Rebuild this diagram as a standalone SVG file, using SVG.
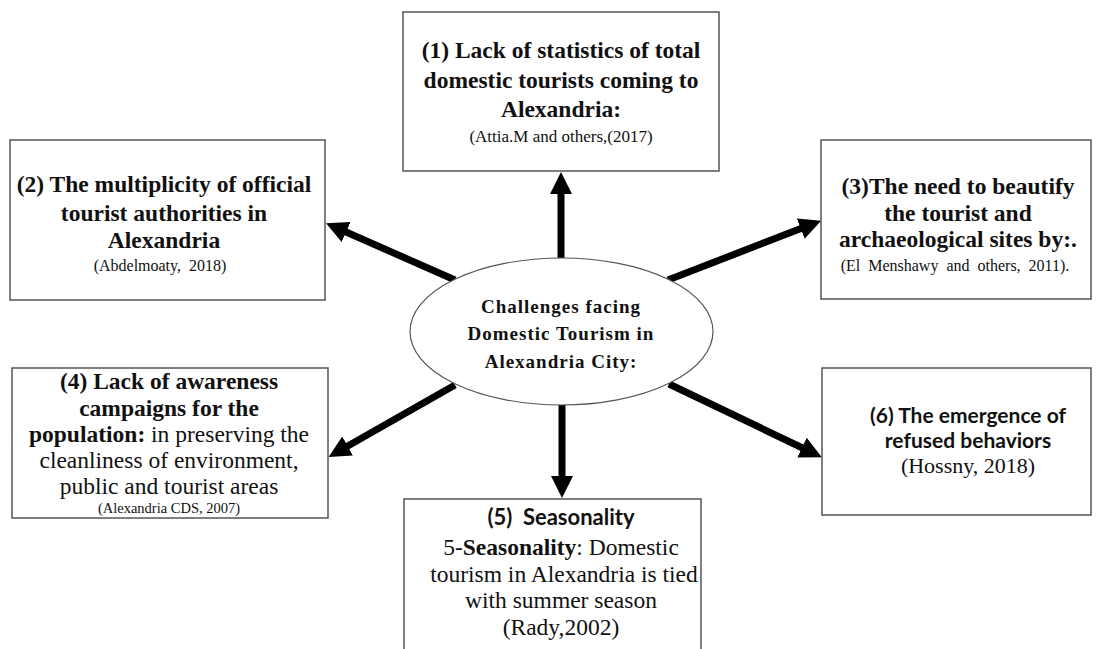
<svg xmlns="http://www.w3.org/2000/svg" width="1101" height="649" viewBox="0 0 1101 649">
<style>
.box{fill:#fff;stroke:#555;stroke-width:1.5}
.ell{fill:#fff;stroke:#555;stroke-width:1.2}
.h{font-family:"Liberation Serif","Times New Roman",serif;font-weight:bold;font-size:23.5px;fill:#111;text-anchor:middle}
.r{font-family:"Liberation Serif","Times New Roman",serif;font-size:23.5px;fill:#111;text-anchor:middle}
.c{font-family:"Liberation Serif","Times New Roman",serif;font-size:16px;fill:#111;text-anchor:middle}
.s{font-family:Lato,"Open Sans",sans-serif;font-weight:bold;font-size:22px;fill:#111;text-anchor:middle}
.e{font-family:"Liberation Serif","Times New Roman",serif;font-weight:bold;font-size:19px;letter-spacing:1px;fill:#111;text-anchor:middle}
.b{font-weight:bold}
.a{stroke:#000;stroke-width:7;fill:none}
</style>
<defs>
<marker id="ah" markerUnits="userSpaceOnUse" markerWidth="24" markerHeight="22" refX="10" refY="11" orient="auto" viewBox="0 0 24 22">
<path d="M0,0 L22,11 L0,22 z" fill="#000"/>
</marker>
</defs>
<rect width="1101" height="649" fill="#fff"/>
<g id="connectors">
<line class="a" x1="561" y1="262" x2="561" y2="184" marker-end="url(#ah)"/>
<line class="a" x1="455" y1="280" x2="337" y2="228" marker-end="url(#ah)"/>
<line class="a" x1="668" y1="280" x2="810" y2="225" marker-end="url(#ah)"/>
<line class="a" x1="455" y1="385" x2="339" y2="451" marker-end="url(#ah)"/>
<line class="a" x1="669" y1="384" x2="811" y2="452" marker-end="url(#ah)"/>
<line class="a" x1="562" y1="400" x2="562" y2="486" marker-end="url(#ah)"/>
</g>
<g id="center">
<ellipse class="ell" cx="561.5" cy="331.5" rx="151.5" ry="73.5"/>
<text class="e" x="561" y="313">Challenges facing</text>
<text class="e" x="561" y="340">Domestic Tourism in</text>
<text class="e" x="561" y="368">Alexandria  City:</text>
</g>
<g id="node1">
<rect class="box" x="403" y="12" width="316" height="159"/>
<text class="h" x="561" y="58">(1) Lack of statistics of total</text>
<text class="h" x="561" y="88">domestic tourists coming to</text>
<text class="h" x="561" y="117">Alexandria:</text>
<text class="c" x="561" y="142" style="font-size:17px">(Attia.M and others,(2017)</text>
</g>
<g id="node2">
<rect class="box" x="10" y="140" width="315" height="160"/>
<text class="h" x="164" y="192">(2) The multiplicity of official</text>
<text class="h" x="164" y="221">tourist authorities in</text>
<text class="h" x="164" y="248">Alexandria</text>
<text class="c" x="160" y="271" xml:space="preserve">(Abdelmoaty,  2018)</text>
</g>
<g id="node3">
<rect class="box" x="821" y="140" width="270" height="159"/>
<text class="h" x="958" y="194">(3)The need to beautify</text>
<text class="h" x="958" y="221">the tourist and</text>
<text class="h" x="958" y="247">archaeological sites by:.</text>
<text class="c" x="955" y="271" style="word-spacing:4px">(El Menshawy and others, 2011).</text>
</g>
<g id="node4">
<rect class="box" x="12" y="368" width="316" height="150"/>
<text class="h" x="169" y="389">(4) Lack of awareness</text>
<text class="h" x="169" y="416">campaigns for the</text>
<text class="r" x="169" y="442"><tspan class="b">population:</tspan> in preserving the</text>
<text class="r" x="169" y="468">cleanliness of environment,</text>
<text class="r" x="169" y="494">public and tourist areas</text>
<text class="c" x="169" y="513" style="font-size:14.5px">(Alexandria CDS, 2007)</text>
</g>
<g id="node5">
<rect class="box" x="404" y="499" width="297" height="160"/>
<text class="s" x="561" y="525" xml:space="preserve">(5)  Seasonality</text>
<text class="r" x="561" y="555">5-<tspan class="b">Seasonality</tspan>: Domestic</text>
<text class="r" x="564" y="582">tourism in Alexandria is tied</text>
<text class="r" x="561" y="608">with summer season</text>
<text class="r" x="561" y="635">(Rady,2002)</text>
</g>
<g id="node6">
<rect class="box" x="822" y="368" width="269" height="147"/>
<text class="s" x="968" y="423" style="font-size:21px">(6) The emergence of</text>
<text class="s" x="968" y="448" style="font-size:21px">refused behaviors</text>
<text class="r" x="968" y="473" style="font-size:22px">(Hossny, 2018)</text>
</g>
</svg>
